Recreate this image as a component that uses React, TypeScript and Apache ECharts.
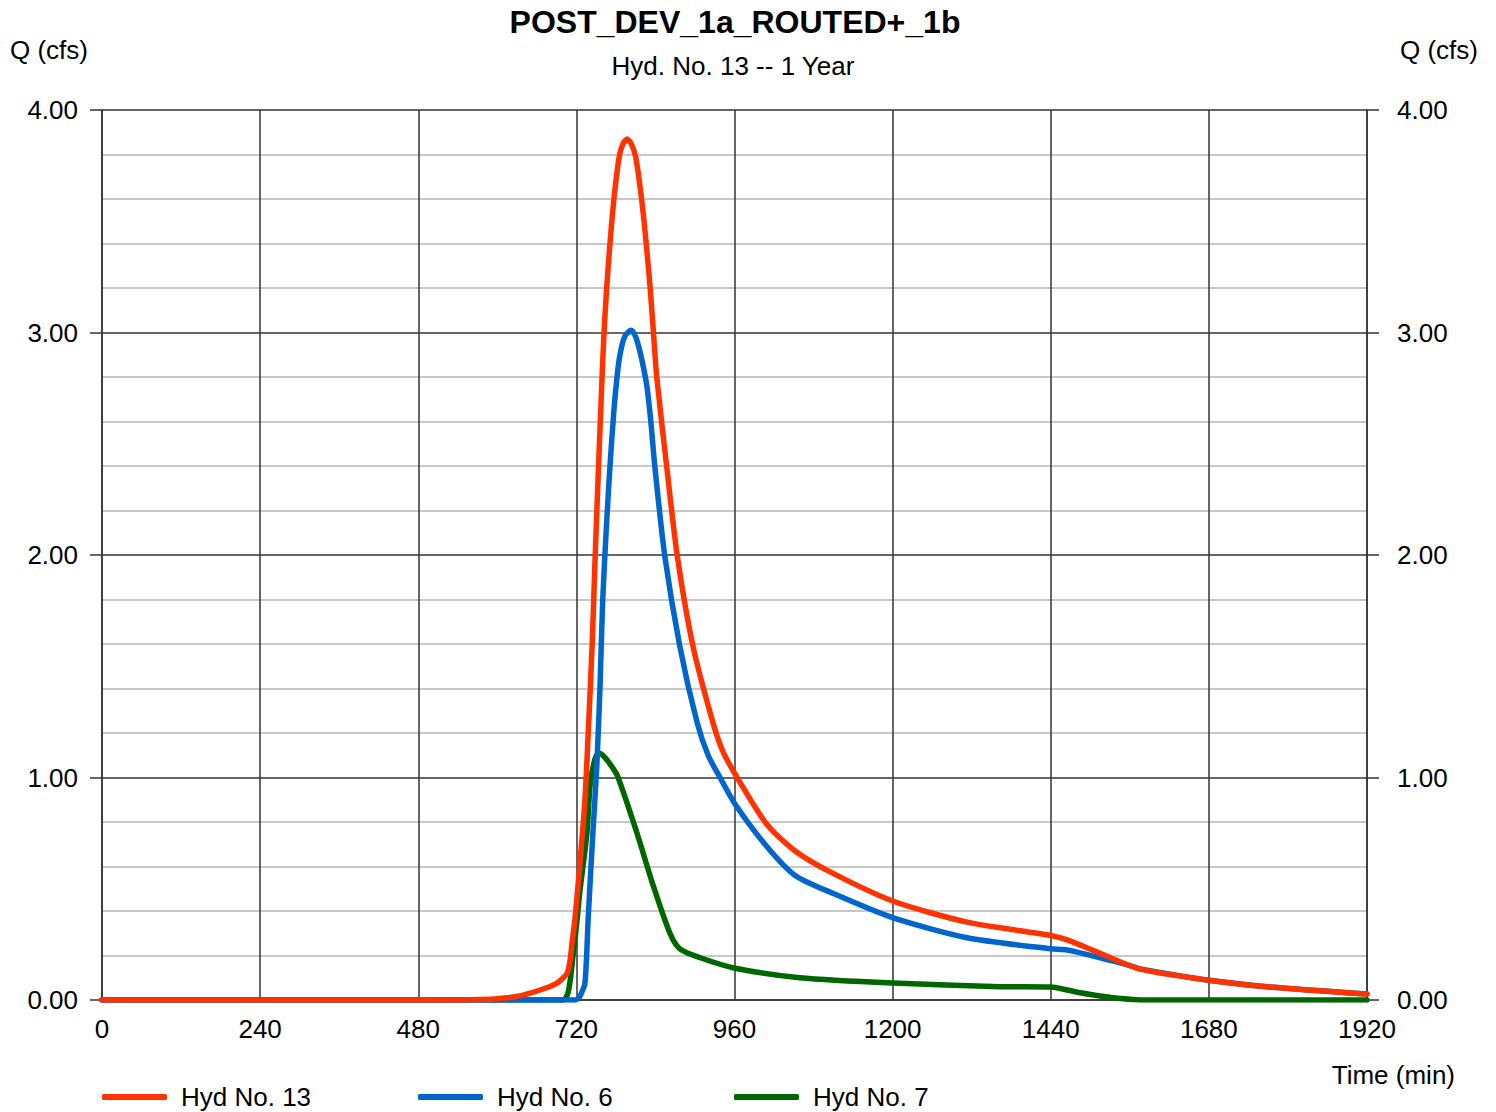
import React, { useEffect, useRef } from "react";
import * as echarts from "echarts";

// ---- Data (time in minutes, Q in cfs) ----
const hyd13Time = [0, 540, 570, 600, 630, 665, 690, 700, 706, 710, 714, 718, 725, 733, 738, 744, 748, 753, 759, 762, 766, 771, 777, 785, 791, 797, 803, 810, 819, 826, 832, 837, 842, 857, 873, 897, 927, 942, 964, 1009, 1052, 1109, 1200, 1313, 1440, 1465, 1515, 1575, 1677, 1768, 1920];
const hyd13Q = [0, 0, 0.002, 0.006, 0.016, 0.045, 0.075, 0.1, 0.12, 0.17, 0.27, 0.37, 0.6, 0.9, 1.2, 1.6, 1.95, 2.35, 2.8, 3.0, 3.2, 3.4, 3.6, 3.79, 3.85, 3.87, 3.85, 3.79, 3.6, 3.4, 3.2, 3.0, 2.8, 2.4, 2.0, 1.59, 1.25, 1.12, 1.0, 0.79, 0.67, 0.57, 0.445, 0.35, 0.29, 0.27, 0.21, 0.14, 0.09, 0.06, 0.027];

const hyd6Time = [0, 718, 722, 726, 733, 738, 745, 751, 756, 760, 766, 771, 777, 780, 785, 793, 803, 810, 816, 822, 827, 833, 839, 854, 877, 903, 920, 938, 961, 1009, 1052, 1109, 1200, 1313, 1440, 1465, 1515, 1541, 1565, 1575, 1677, 1768, 1920];
const hyd6Q = [0, 0, 0.005, 0.02, 0.075, 0.37, 0.75, 1.05, 1.42, 1.8, 2.15, 2.4, 2.65, 2.75, 2.88, 2.98, 3.01, 2.98, 2.92, 2.84, 2.76, 2.6, 2.4, 2.0, 1.59, 1.25, 1.1, 1.0, 0.88, 0.69, 0.56, 0.48, 0.37, 0.28, 0.23, 0.225, 0.19, 0.17, 0.15, 0.14, 0.09, 0.06, 0.027];

const hyd7Time = [0, 700, 708, 715, 720, 725, 736, 741, 748, 754, 760, 770, 782, 812, 836, 862, 877, 908, 961, 1059, 1200, 1363, 1440, 1465, 1489, 1515, 1545, 1575, 1920];
const hyd7Q = [0, 0, 0.04, 0.2, 0.33, 0.48, 0.75, 0.97, 1.08, 1.11, 1.1, 1.065, 1.01, 0.75, 0.52, 0.3, 0.23, 0.19, 0.143, 0.1, 0.076, 0.06, 0.058, 0.045, 0.03, 0.018, 0.007, 0, 0];

const seriesNames = ["Hyd No. 13", "Hyd No. 6", "Hyd No. 7"];
const seriesColors = ["#FF3300", "#0066CC", "#006600"];

const xMin = 0;
const xMax = 1920;
const xInterval = 240;
const yMin = 0;
const yMax = 4;
const yInterval = 1;

const titleText = "POST_DEV_1a_ROUTED+_1b";
const subtitleText = "Hyd. No. 13 -- 1 Year";
const yAxisName = "Q (cfs)";
const xAxisName = "Time (min)";

const FONT = "'Liberation Sans', Arial, Helvetica, sans-serif";

function zip(t: number[], q: number[]) {
  return t.map((v, i) => [v, q[i]]);
}

export default function App() {
  const ref = useRef<HTMLDivElement>(null);

  useEffect(() => {
    if (!ref.current) return;
    const chart = echarts.init(ref.current, undefined, { renderer: "svg" });

    const mkText = (
      text: string,
      x: number,
      y: number,
      size: number,
      align: string,
      bold = false
    ) => ({
      type: "text",
      x,
      y,
      silent: true,
      style: {
        text,
        fill: "#000",
        font: `${bold ? "bold " : ""}${size}px ${FONT}`,
        align,
        verticalAlign: "middle",
        textAlign: align,
        textVerticalAlign: "middle",
      },
    });

    const lineSeries = (name: string, color: string, data: number[][], z: number) => ({
      name,
      type: "line",
      data,
      xAxisIndex: 0,
      yAxisIndex: 0,
      symbol: "none",
      smooth: 0.25,
      z,
      lineStyle: { color, width: 5.5, cap: "round", join: "round" },
      itemStyle: { color },
    });

    const legendAt = (name: string, left: number) => ({
      data: [name],
      left,
      top: 1082,
      orient: "horizontal",
      icon: "roundRect",
      itemWidth: 65,
      itemHeight: 6,
      selectedMode: false,
      padding: 0,
      textStyle: {
        fontFamily: FONT,
        fontSize: 26,
        color: "#000",
        lineHeight: 30,
        padding: [0, 0, 0, 9],
      },
    });

    const yAxisBase = {
      type: "value",
      min: yMin,
      max: yMax,
      interval: yInterval,
      axisLine: { show: true, lineStyle: { color: "#333", width: 1.5 } },
      axisTick: { show: true, length: 12, lineStyle: { color: "#333", width: 1.5 } },
      axisLabel: {
        fontFamily: FONT,
        fontSize: 26,
        color: "#000",
        formatter: (v: number) => v.toFixed(2),
      },
    };

    chart.setOption({
      animation: false,
      backgroundColor: "#fff",
      grid: { left: 102, right: 129, top: 110, bottom: 112, containLabel: false },
      xAxis: {
        type: "value",
        min: xMin,
        max: xMax,
        interval: xInterval,
        axisLine: { show: true, onZero: false, lineStyle: { color: "#333", width: 1.5 } },
        axisTick: { show: false },
        axisLabel: {
          fontFamily: FONT,
          fontSize: 26,
          color: "#000",
          margin: 16,
          formatter: (v: number) => String(v),
        },
        splitLine: { show: true, lineStyle: { color: "#333", width: 1.5 } },
      },
      yAxis: [
        {
          ...yAxisBase,
          position: "left",
          axisLabel: { ...yAxisBase.axisLabel, margin: 24 },
          splitLine: { show: true, lineStyle: { color: "#333", width: 1.5 } },
          minorTick: { show: false, splitNumber: 5 },
          minorSplitLine: { show: true, lineStyle: { color: "#c8c8c8", width: 2 } },
        },
        {
          ...yAxisBase,
          position: "right",
          axisLabel: { ...yAxisBase.axisLabel, margin: 30 },
          splitLine: { show: false },
        },
      ],
      legend: [
        legendAt(seriesNames[0], 102),
        legendAt(seriesNames[1], 418),
        legendAt(seriesNames[2], 734),
      ],
      graphic: [
        mkText(titleText, 735, 22, 32, "center", true),
        mkText(subtitleText, 733, 66, 26, "center"),
        mkText(yAxisName, 10, 50, 26, "left"),
        mkText(yAxisName, 1478, 50, 26, "right"),
        mkText(xAxisName, 1455, 1075, 26, "right"),
      ],
      series: [
        lineSeries(seriesNames[2], seriesColors[2], zip(hyd7Time, hyd7Q), 2),
        lineSeries(seriesNames[1], seriesColors[1], zip(hyd6Time, hyd6Q), 3),
        lineSeries(seriesNames[0], seriesColors[0], zip(hyd13Time, hyd13Q), 4),
      ],
    });

    return () => chart.dispose();
  }, []);

  return (
    <div
      ref={ref}
      style={{ position: "fixed", left: 0, top: 0, width: 1496, height: 1112, background: "#fff" }}
    />
  );
}
